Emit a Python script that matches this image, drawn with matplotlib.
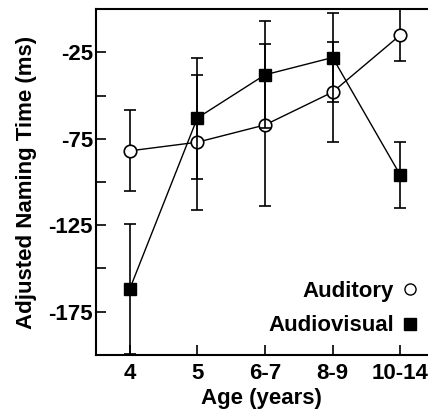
import matplotlib
matplotlib.use('Agg')
import matplotlib.pyplot as plt

plt.rcParams.update({
    'font.family': 'Liberation Sans',
    'font.weight': 'bold',
    'font.size': 16,
})

ages = ['4', '5', '6-7', '8-9', '10-14']
auditory = [-82, -77, -67, -48, -15]
auditory_err = [23.5, 39, 47, 29, 15]
audiovisual = [-162, -63, -38, -28, -96]
audiovisual_err = [37.5, 35, 31, 26, 19]

x = list(range(len(ages)))

fig = plt.figure(figsize=(4.28, 4.15), dpi=100)
ax = fig.add_axes([0.224, 0.145, 0.776, 0.833])

ax.errorbar(x, auditory, yerr=auditory_err, fmt='-o', color='black',
            mfc='white', mec='black', ms=9, mew=1.2, lw=1.0,
            elinewidth=1.2, capsize=4, capthick=1.2, label='Auditory', zorder=3)
ax.errorbar(x, audiovisual, yerr=audiovisual_err, fmt='-s', color='black',
            mfc='black', mec='black', ms=8.5, lw=1.0,
            elinewidth=1.2, capsize=4, capthick=1.2, label='Audiovisual', zorder=4)

ax.set_xlim(-0.5, 4.41)
ax.set_ylim(-200, 0)
ax.set_xticks(x)
ax.set_xticklabels(ages)
ax.set_yticks([-175, -150, -125, -100, -75, -50, -25])
ax.set_yticklabels(['-175', '', '-125', '', '-75', '', '-25'])
ax.tick_params(direction='in', length=7, width=1.2)
ax.tick_params(axis='x', pad=6)
ax.tick_params(axis='y', pad=2)
ax.spines['right'].set_visible(False)
for s in ['left', 'bottom', 'top']:
    ax.spines[s].set_linewidth(1.5)

ax.set_xlabel('Age (years)', fontweight='bold', labelpad=3)
ax.set_ylabel('Adjusted Naming Time (ms)', fontweight='bold', labelpad=8)

h, l = ax.get_legend_handles_labels()
handles = [plt.Line2D([], [], ls='none', marker='o', mfc='white', mec='black', ms=8),
           plt.Line2D([], [], ls='none', marker='s', mfc='black', mec='black', ms=8)]
ax.legend(handles, l, loc='lower right', bbox_to_anchor=(1.005, 0.015),
          markerfirst=False, frameon=False, handlelength=0.6, handletextpad=0.4,
          labelspacing=0.6, borderaxespad=0.2)

fig.savefig('out.png', dpi=100)
